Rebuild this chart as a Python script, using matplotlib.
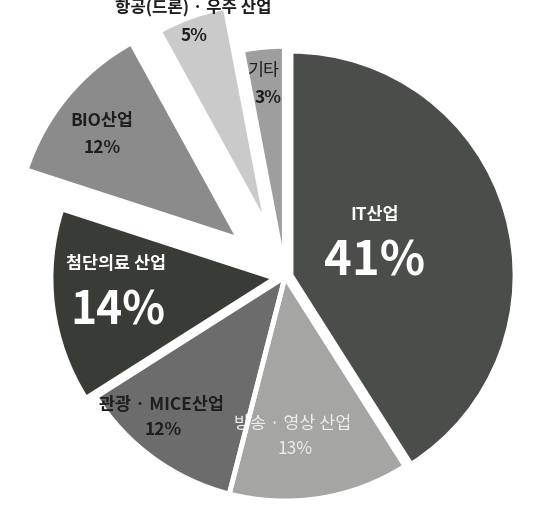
import matplotlib
matplotlib.use("Agg")
import matplotlib.pyplot as plt

plt.rcParams['font.family'] = ['Noto Sans CJK KR', 'DejaVu Sans']

# ---- data ----
categories = ['IT산업', '방송 · 영상 산업', '관광 · MICE산업', '첨단의료 산업',
              'BIO산업', '항공(드론) · 우주 산업', '기타']
shares = [41, 13, 12, 14, 12, 5, 3]
pct_labels = ['41%', '13%', '12%', '14%', '12%', '5%', '3%']

# ---- style / layout ----
colors = ['#4a4d49', '#a5a5a3', '#6c6c6c', '#393b37', '#8b8b8b', '#cacaca', '#9e9e9e']
explode = [0.028, 0.0, 0.0, 0.045, 0.265, 0.235, 0.03]
text_colors = ['white', '#ececec', '#1e1e1e', 'white', '#1e1e1e', '#1e1e1e', '#1e1e1e']
name_pos = [(0.402, 0.277), (0.036, -0.656), (-0.553, -0.571), (-0.754, 0.058),
            (-0.817, 0.696), (-0.411, 1.201), (-0.094, 0.920)]
pct_pos = [(0.402, 0.067), (0.045, -0.768), (-0.545, -0.683), (-0.746, -0.152),
           (-0.817, 0.576), (-0.406, 1.076), (-0.076, 0.799)]
name_size = [12.5, 12.5, 12.5, 12.5, 12.5, 12, 12.5]
pct_size = [34, 12.5, 12.5, 32, 12.5, 12.5, 12.5]
name_weight = ['bold', 'normal', 'bold', 'bold', 'bold', 'bold', 'normal']
pct_weight = ['bold', 'normal', 'bold', 'bold', 'bold', 'bold', 'bold']
name_z = [5, 3, 5, 5, 5, 5, 5]

W, H = 550, 513
fig = plt.figure(figsize=(W / 100, H / 100), dpi=100)
ax = fig.add_axes([0, 0, 1, 1])

ax.pie(shares, colors=colors, explode=explode, startangle=90, counterclock=False,
       radius=1.0, wedgeprops=dict(edgecolor='none', linewidth=0))

for i in range(len(categories)):
    ax.text(*name_pos[i], categories[i], ha='center', va='center', zorder=name_z[i],
            fontsize=name_size[i], color=text_colors[i], fontweight=name_weight[i])
    ax.text(*pct_pos[i], pct_labels[i], ha='center', va='center', zorder=5,
            fontsize=pct_size[i], color=text_colors[i], fontweight=pct_weight[i])

# white separating outlines (drawn over the 방송 label like in the original)
wedges, _ = ax.pie(shares, colors=colors, explode=explode, startangle=90,
                   counterclock=False, radius=1.0,
                   wedgeprops=dict(facecolor='none', edgecolor='white', linewidth=3.5))
for w in wedges:
    w.set_zorder(4)

# pie centre at pixel (285, 277 from top), radius 224 px
scale = 224.0
cx, cy = 285.0, H - 277.0
ax.set_xlim(-cx / scale, (W - cx) / scale)
ax.set_ylim(-cy / scale, (H - cy) / scale)
ax.set_aspect('auto')
ax.axis('off')

fig.savefig('out.png', dpi=100, facecolor='white')
